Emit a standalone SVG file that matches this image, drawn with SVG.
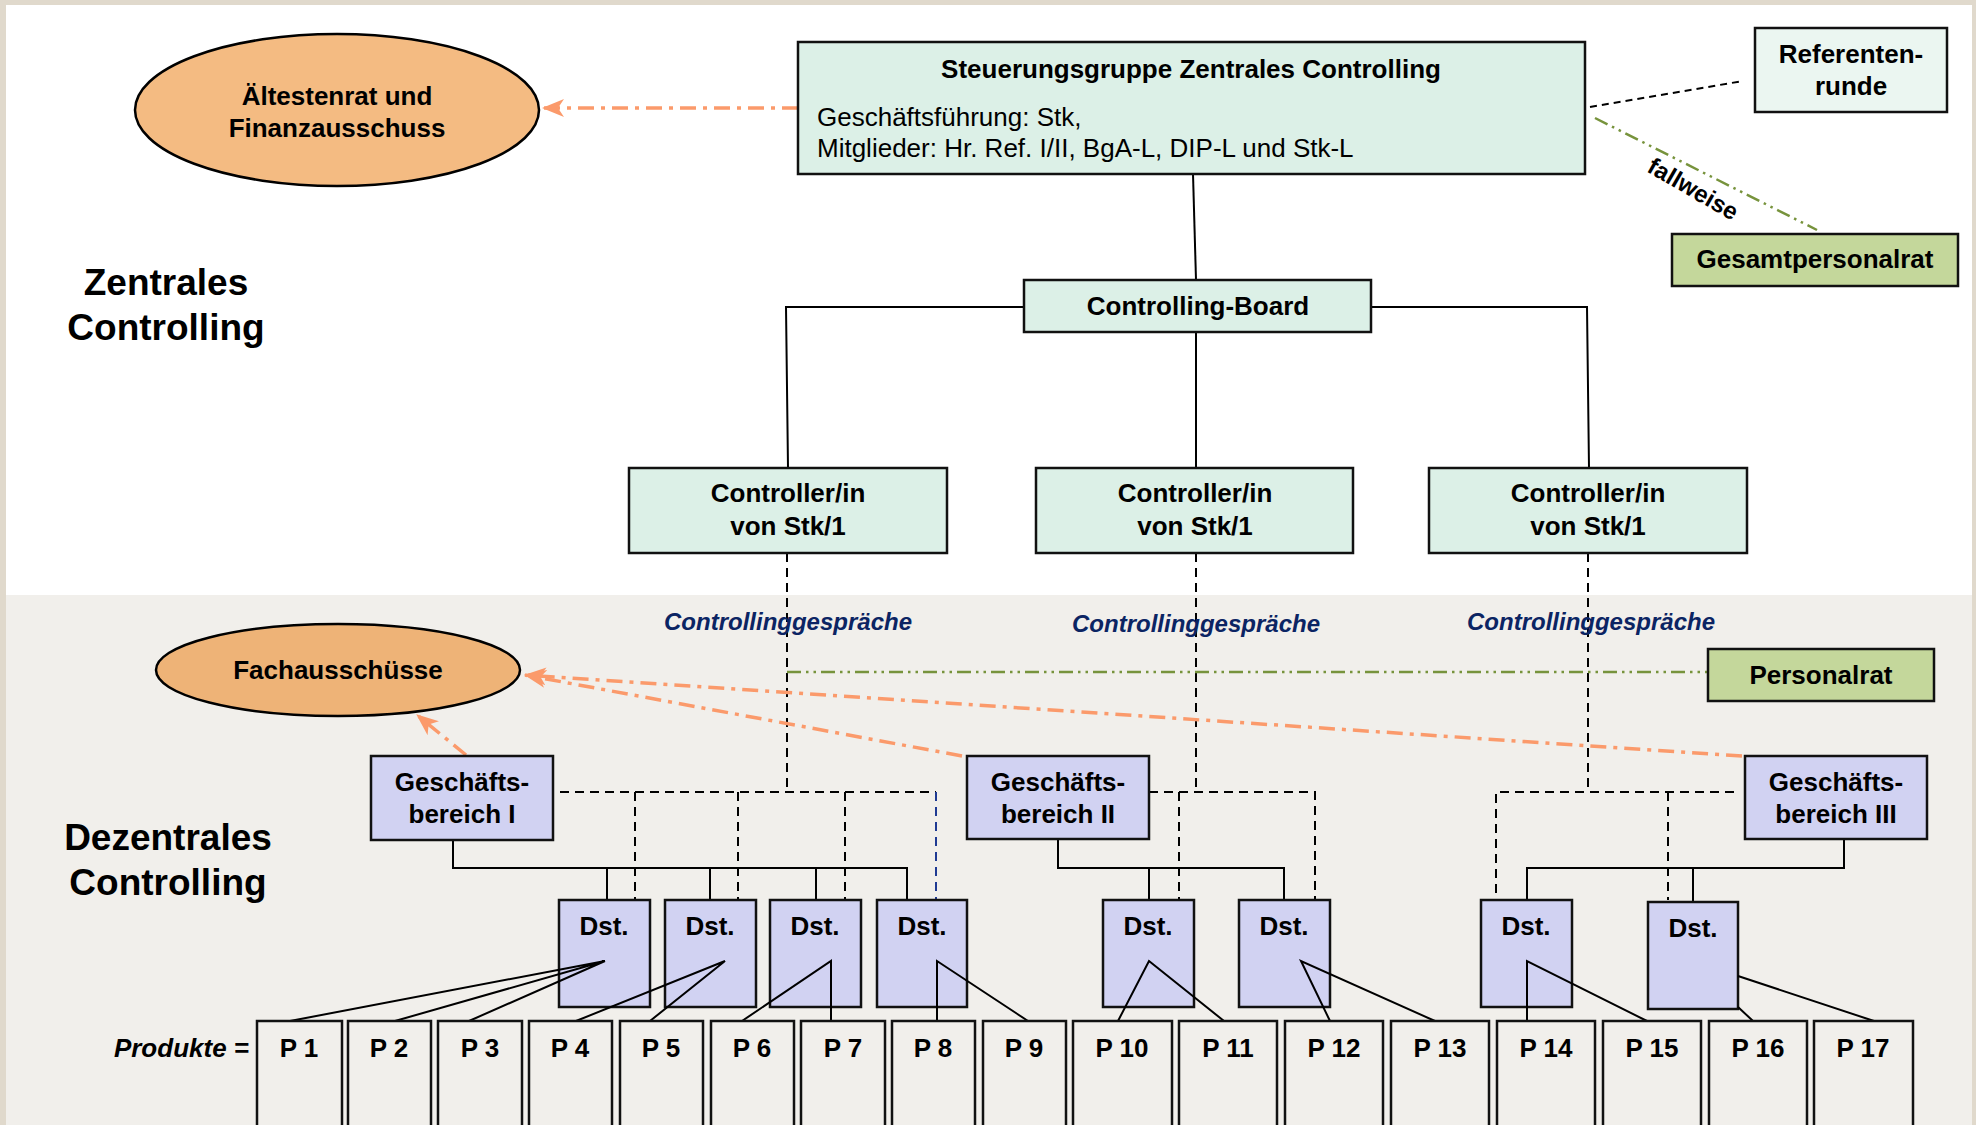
<svg xmlns="http://www.w3.org/2000/svg" width="1976" height="1125" viewBox="0 0 1976 1125">
<defs>
<style>
.t{font-family:"Liberation Sans",Arial,sans-serif;font-weight:bold;font-size:26px;fill:#000;text-anchor:middle}
.r{font-family:"Liberation Sans",Arial,sans-serif;font-size:26px;fill:#000}
.big{font-family:"Liberation Sans",Arial,sans-serif;font-weight:bold;font-size:37px;fill:#000;text-anchor:middle}
.cg{font-family:"Liberation Sans",Arial,sans-serif;font-weight:bold;font-style:italic;font-size:24px;fill:#0b2463;text-anchor:middle}
.box{stroke:#111;stroke-width:2.5}
.mint{fill:#dcf0e7}
.mint2{fill:#ebf6f1}
.green{fill:#c4d79b}
.lav{fill:#d1d2f2}
.prod{fill:#f1efeb;stroke:#111;stroke-width:2.5}
.ell{stroke:#000;stroke-width:2.5}
.solid{stroke:#000;stroke-width:2;fill:none}
.dash{stroke:#000;stroke-width:2;fill:none;stroke-dasharray:9 6}
.bdash{stroke:#1f3a93;stroke-width:2;fill:none;stroke-dasharray:9 6}
.orange{stroke:#fb9a6b;stroke-width:3.5;fill:none;stroke-dasharray:16 7 4 7}
.gline{stroke:#77933c;stroke-width:2.5;fill:none;stroke-dasharray:14 5 2.5 5 2.5 5}
</style>
<marker id="oa" viewBox="0 0 22 18" refX="21" refY="9" markerWidth="22" markerHeight="18" markerUnits="userSpaceOnUse" orient="auto">
<path d="M0,0 L22,9 L0,18 L6,9 z" fill="#fb9a6b"/>
</marker>
</defs>

<rect x="0" y="0" width="1976" height="1125" fill="#e0d9cc"/>
<rect x="6" y="5" width="1966" height="590" fill="#ffffff"/>
<rect x="6" y="595" width="1966" height="530" fill="#f1efeb"/>

<g id="section-labels">
<text class="big" x="166" y="295">Zentrales</text>
<text class="big" x="166" y="340">Controlling</text>
<text class="big" x="168" y="850">Dezentrales</text>
<text class="big" x="168" y="895">Controlling</text>
</g>

<g id="connectors">
<line class="orange" x1="798" y1="108" x2="543" y2="108" marker-end="url(#oa)"/>
<line class="dash" x1="1590" y1="107" x2="1743" y2="81" style="stroke-dasharray:7 5"/>
<line class="gline" x1="1595" y1="118" x2="1817" y2="230"/>
<text transform="translate(1689,196) rotate(30)" text-anchor="middle" style="font-family:'Liberation Sans',Arial,sans-serif;font-weight:bold;font-size:24px">fallweise</text>

<path class="solid" d="M1193,174 L1196,280"/>
<path class="solid" d="M1024,307 L786,307 L788,468"/>
<path class="solid" d="M1371,307 L1587,307 L1589,468"/>
<path class="solid" d="M1196,332 L1196,468"/>

<path class="dash" d="M787,553 L787,792"/>
<path class="dash" d="M1196,553 L1196,792"/>
<path class="dash" d="M1588,553 L1588,792"/>

<line class="gline" x1="787" y1="672" x2="1708" y2="672"/>

<line class="orange" x1="1742" y1="756" x2="525" y2="675" marker-end="url(#oa)"/>
<line class="orange" x1="962" y1="756" x2="525" y2="675" marker-end="url(#oa)"/>
<line class="orange" x1="466" y1="755" x2="417" y2="715" marker-end="url(#oa)"/>

<path class="dash" d="M560,792 L936,792"/>
<path class="dash" d="M635,792 L635,900 M738,792 L738,900 M845,792 L845,900"/>
<path class="bdash" d="M936,792 L936,900"/>
<path class="dash" d="M1149,792 L1315,792 L1315,900 M1179,792 L1179,900"/>
<path class="dash" d="M1734,792 L1496,792 L1496,900 M1668,792 L1668,900"/>

<path class="solid" d="M453,840 L453,868 L907,868 L907,900 M607,868 L607,900 M710,868 L710,900 M816,868 L816,900"/>
<path class="solid" d="M1058,839 L1058,868 L1284,868 L1284,900 M1149,868 L1149,900"/>
<path class="solid" d="M1844,839 L1844,868 L1527,868 L1527,900 M1693,868 L1693,902"/>
</g>

<g id="node-aeltestenrat">
<ellipse class="ell" cx="337" cy="110" rx="202" ry="76" fill="#f4bb82"/>
<text class="t" x="337" y="105">Ältestenrat und</text>
<text class="t" x="337" y="137">Finanzausschuss</text>
</g>

<g id="node-steuerungsgruppe">
<rect class="box mint" x="798" y="42" width="787" height="132"/>
<text class="t" x="1191" y="78">Steuerungsgruppe Zentrales Controlling</text>
<text class="r" x="817" y="126">Geschäftsführung: Stk,</text>
<text class="r" x="817" y="157">Mitglieder: Hr. Ref. I/II, BgA-L, DIP-L und Stk-L</text>
</g>

<g id="node-referentenrunde">
<rect class="box mint2" x="1755" y="28" width="192" height="84"/>
<text class="t" x="1851" y="63">Referenten-</text>
<text class="t" x="1851" y="95">runde</text>
</g>

<g id="node-gesamtpersonalrat">
<rect class="box green" x="1672" y="234" width="286" height="52"/>
<text class="t" x="1815" y="268">Gesamtpersonalrat</text>
</g>

<g id="node-controlling-board">
<rect class="box mint" x="1024" y="280" width="347" height="52"/>
<text class="t" x="1198" y="315">Controlling-Board</text>
</g>

<g id="node-controller-1">
<rect class="box mint" x="629" y="468" width="318" height="85"/>
<text class="t" x="788" y="502">Controller/in</text>
<text class="t" x="788" y="535">von Stk/1</text>
</g>
<g id="node-controller-2">
<rect class="box mint" x="1036" y="468" width="317" height="85"/>
<text class="t" x="1195" y="502">Controller/in</text>
<text class="t" x="1195" y="535">von Stk/1</text>
</g>
<g id="node-controller-3">
<rect class="box mint" x="1429" y="468" width="318" height="85"/>
<text class="t" x="1588" y="502">Controller/in</text>
<text class="t" x="1588" y="535">von Stk/1</text>
</g>

<g id="labels-controllinggespraeche">
<text class="cg" x="788" y="630">Controllinggespräche</text>
<text class="cg" x="1196" y="632">Controllinggespräche</text>
<text class="cg" x="1591" y="630">Controllinggespräche</text>
</g>

<g id="node-fachausschuesse">
<ellipse class="ell" cx="338" cy="670" rx="182" ry="46" fill="#eeb377"/>
<text class="t" x="338" y="679">Fachausschüsse</text>
</g>

<g id="node-personalrat">
<rect class="box green" x="1708" y="649" width="226" height="52"/>
<text class="t" x="1821" y="684">Personalrat</text>
</g>

<g id="node-gb1">
<rect class="box lav" x="371" y="756" width="182" height="84"/>
<text class="t" x="462" y="791">Geschäfts-</text>
<text class="t" x="462" y="823">bereich I</text>
</g>
<g id="node-gb2">
<rect class="box lav" x="967" y="756" width="182" height="83"/>
<text class="t" x="1058" y="791">Geschäfts-</text>
<text class="t" x="1058" y="823">bereich II</text>
</g>
<g id="node-gb3">
<rect class="box lav" x="1745" y="756" width="182" height="83"/>
<text class="t" x="1836" y="791">Geschäfts-</text>
<text class="t" x="1836" y="823">bereich III</text>
</g>

<g id="node-dst-1"><rect class="box lav" x="559" y="900" width="91" height="107"/><text class="t" x="604" y="935">Dst.</text></g>
<g id="node-dst-2"><rect class="box lav" x="665" y="900" width="91" height="107"/><text class="t" x="710" y="935">Dst.</text></g>
<g id="node-dst-3"><rect class="box lav" x="770" y="900" width="91" height="107"/><text class="t" x="815" y="935">Dst.</text></g>
<g id="node-dst-4"><rect class="box lav" x="877" y="900" width="90" height="107"/><text class="t" x="922" y="935">Dst.</text></g>
<g id="node-dst-5"><rect class="box lav" x="1103" y="900" width="91" height="107"/><text class="t" x="1148" y="935">Dst.</text></g>
<g id="node-dst-6"><rect class="box lav" x="1239" y="900" width="91" height="107"/><text class="t" x="1284" y="935">Dst.</text></g>
<g id="node-dst-7"><rect class="box lav" x="1481" y="900" width="91" height="107"/><text class="t" x="1526" y="935">Dst.</text></g>
<g id="node-dst-8"><rect class="box lav" x="1648" y="902" width="90" height="107"/><text class="t" x="1693" y="937">Dst.</text></g>

<g id="connectors-dst-products">
<path class="solid" d="M290,1021 L605,961 L395,1021 M605,961 L469,1021"/>
<path class="solid" d="M576,1021 L725,961 L650,1021"/>
<path class="solid" d="M742,1021 L831,961 L831,1021"/>
<path class="solid" d="M937,1021 L937,961 L1028,1021"/>
<path class="solid" d="M1118,1021 L1149,961 L1224,1021"/>
<path class="solid" d="M1330,1021 L1301,961 L1435,1021"/>
<path class="solid" d="M1527,1021 L1527,961 L1647,1021"/>
<path class="solid" d="M1738,976 L1874,1021 M1738,1007 L1753,1021"/>
</g>

<text x="249" y="1057" text-anchor="end" style="font-family:'Liberation Sans',Arial,sans-serif;font-weight:bold;font-style:italic;font-size:26px">Produkte =</text>

<g id="node-p1"><rect class="prod" x="257" y="1021" width="85" height="120"/><text class="t" x="299" y="1057">P 1</text></g>
<g id="node-p2"><rect class="prod" x="348" y="1021" width="83" height="120"/><text class="t" x="389" y="1057">P 2</text></g>
<g id="node-p3"><rect class="prod" x="438" y="1021" width="84" height="120"/><text class="t" x="480" y="1057">P 3</text></g>
<g id="node-p4"><rect class="prod" x="529" y="1021" width="83" height="120"/><text class="t" x="570" y="1057">P 4</text></g>
<g id="node-p5"><rect class="prod" x="620" y="1021" width="83" height="120"/><text class="t" x="661" y="1057">P 5</text></g>
<g id="node-p6"><rect class="prod" x="711" y="1021" width="83" height="120"/><text class="t" x="752" y="1057">P 6</text></g>
<g id="node-p7"><rect class="prod" x="801" y="1021" width="84" height="120"/><text class="t" x="843" y="1057">P 7</text></g>
<g id="node-p8"><rect class="prod" x="892" y="1021" width="83" height="120"/><text class="t" x="933" y="1057">P 8</text></g>
<g id="node-p9"><rect class="prod" x="983" y="1021" width="83" height="120"/><text class="t" x="1024" y="1057">P 9</text></g>
<g id="node-p10"><rect class="prod" x="1073" y="1021" width="99" height="120"/><text class="t" x="1122" y="1057">P 10</text></g>
<g id="node-p11"><rect class="prod" x="1179" y="1021" width="98" height="120"/><text class="t" x="1228" y="1057">P 11</text></g>
<g id="node-p12"><rect class="prod" x="1285" y="1021" width="98" height="120"/><text class="t" x="1334" y="1057">P 12</text></g>
<g id="node-p13"><rect class="prod" x="1391" y="1021" width="98" height="120"/><text class="t" x="1440" y="1057">P 13</text></g>
<g id="node-p14"><rect class="prod" x="1497" y="1021" width="98" height="120"/><text class="t" x="1546" y="1057">P 14</text></g>
<g id="node-p15"><rect class="prod" x="1603" y="1021" width="98" height="120"/><text class="t" x="1652" y="1057">P 15</text></g>
<g id="node-p16"><rect class="prod" x="1709" y="1021" width="98" height="120"/><text class="t" x="1758" y="1057">P 16</text></g>
<g id="node-p17"><rect class="prod" x="1814" y="1021" width="99" height="120"/><text class="t" x="1863" y="1057">P 17</text></g>
</svg>
